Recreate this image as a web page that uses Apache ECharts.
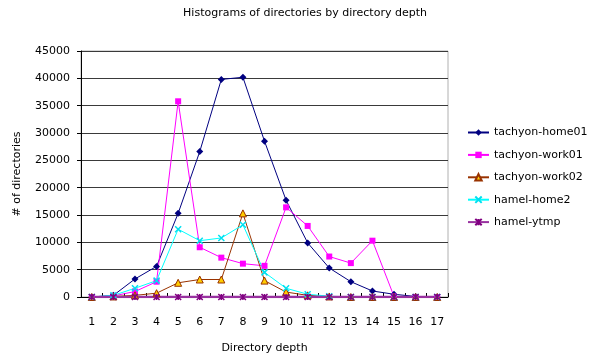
<!DOCTYPE html>
<html>
<head>
<meta charset="utf-8">
<script src="https://cdn.jsdelivr.net/npm/echarts@6/dist/echarts.min.js"></script>
<style>
  html, body { margin: 0; padding: 0; background: #fff; }
  #chart { width: 595px; height: 356px; }
</style>
</head>
<body>
<div id="chart"></div>
<script>
// Directory depth categories
const depths = ['1','2','3','4','5','6','7','8','9','10','11','12','13','14','15','16','17'];

// Directory counts per depth, one array per filesystem
const tachyonHome01 = [0, 300, 3300, 5600, 15300, 26600, 39800, 40200, 28500, 17700, 9900, 5300, 2800, 1100, 500, 100, 0];
const tachyonWork01 = [0, 200, 1000, 2800, 35800, 9100, 7200, 6100, 5700, 16400, 13000, 7400, 6200, 10300, 100, 0, 0];
const tachyonWork02 = [0, 100, 300, 700, 2600, 3200, 3200, 15300, 3000, 900, 300, 100, 0, 0, 0, 0, 0];
const hamelHome2   = [0, 300, 1600, 3000, 12400, 10300, 10800, 13200, 4500, 1600, 500, 150, 0, 0, 0, 0, 0];
const hamelYtmp    = [0, 0, 0, 0, 0, 0, 0, 0, 0, 0, 0, 0, 0, 0, 0, 0, 0];

const yTicks = { min: 0, max: 45000, interval: 5000 };

const FONT = 'DejaVu Sans';

const crossPath = 'path://M0,0L10,10M10,0L0,10';
const starPath = 'path://M0,0L10,10M10,0L0,10M5,0L5,10';

function lineSeries(name, data, color, symbol, opts) {
  opts = opts || {};
  return {
    name: name,
    type: 'line',
    data: data,
    symbol: symbol,
    symbolSize: opts.symbolSize || 6,
    showAllSymbol: true,
    lineStyle: { color: color, width: opts.lineWidth || 1 },
    itemStyle: {
      color: opts.fill || color,
      borderColor: opts.border || color,
      borderWidth: opts.borderWidth || 0
    },
    emphasis: { disabled: true },
    animation: false
  };
}

const chart = echarts.init(document.getElementById('chart'), null, { renderer: 'canvas' });

chart.setOption({
  backgroundColor: '#ffffff',
  animation: false,
  title: {
    text: 'Histograms of directories by directory depth',
    left: 300,
    textAlign: 'center',
    top: 3,
    textStyle: { fontFamily: FONT, fontSize: 11, fontWeight: 'normal', color: '#000' }
  },
  grid: {
    left: 81, top: 51, width: 367, height: 246,
    outerBoundsMode: 'none',
    containLabel: false,
    show: true, borderColor: '#b0b0b0', borderWidth: 1, backgroundColor: 'transparent'
  },
  legend: {
    orient: 'vertical',
    left: 462,
    top: 122,
    itemWidth: 21,
    itemHeight: 8,
    itemGap: 11.4,
    textStyle: { fontFamily: FONT, fontSize: 11, color: '#000' },
    data: ['tachyon-home01', 'tachyon-work01', 'tachyon-work02', 'hamel-home2', 'hamel-ytmp']
  },
  xAxis: {
    type: 'category',
    data: depths,
    boundaryGap: true,
    name: 'Directory depth',
    nameLocation: 'middle',
    nameGap: 46,
    nameTextStyle: { fontFamily: FONT, fontSize: 11, color: '#000' },
    axisLine: { lineStyle: { color: '#000', width: 1 } },
    axisTick: { show: true, inside: true, length: 4, alignWithLabel: false, lineStyle: { color: '#000' } },
    axisLabel: { fontFamily: FONT, fontSize: 11, color: '#000', margin: 20, interval: 0 },
    splitLine: { show: false }
  },
  yAxis: {
    type: 'value',
    min: yTicks.min,
    max: yTicks.max,
    interval: yTicks.interval,
    name: '# of directories',
    nameLocation: 'middle',
    nameGap: 58,
    nameRotate: 90,
    nameTextStyle: { fontFamily: FONT, fontSize: 11, color: '#000' },
    axisLine: { show: true, lineStyle: { color: '#000', width: 1 } },
    axisTick: { show: true, length: 4, lineStyle: { color: '#000' } },
    axisLabel: {
      fontFamily: FONT, fontSize: 11, color: '#000', margin: 11,
      formatter: function (v) { return String(v); }
    },
    splitLine: { show: true, lineStyle: { color: '#3a3a3a', width: 1 } }
  },
  series: [
    lineSeries('tachyon-home01', tachyonHome01, '#000080', 'diamond', { symbolSize: 7 }),
    lineSeries('tachyon-work01', tachyonWork01, '#ff00ff', 'rect', { symbolSize: 6 }),
    lineSeries('tachyon-work02', tachyonWork02, '#993300', 'triangle',
      { symbolSize: 7, fill: '#ffcc00', border: '#993300', borderWidth: 1 }),
    lineSeries('hamel-home2', hamelHome2, '#00ffff', crossPath,
      { symbolSize: 6, border: '#00e0f0', borderWidth: 1.5 }),
    lineSeries('hamel-ytmp', hamelYtmp, '#9932a0', starPath,
      { symbolSize: 6, lineWidth: 2.5, border: '#800080', borderWidth: 1.5 })
  ]
});
</script>
</body>
</html>
